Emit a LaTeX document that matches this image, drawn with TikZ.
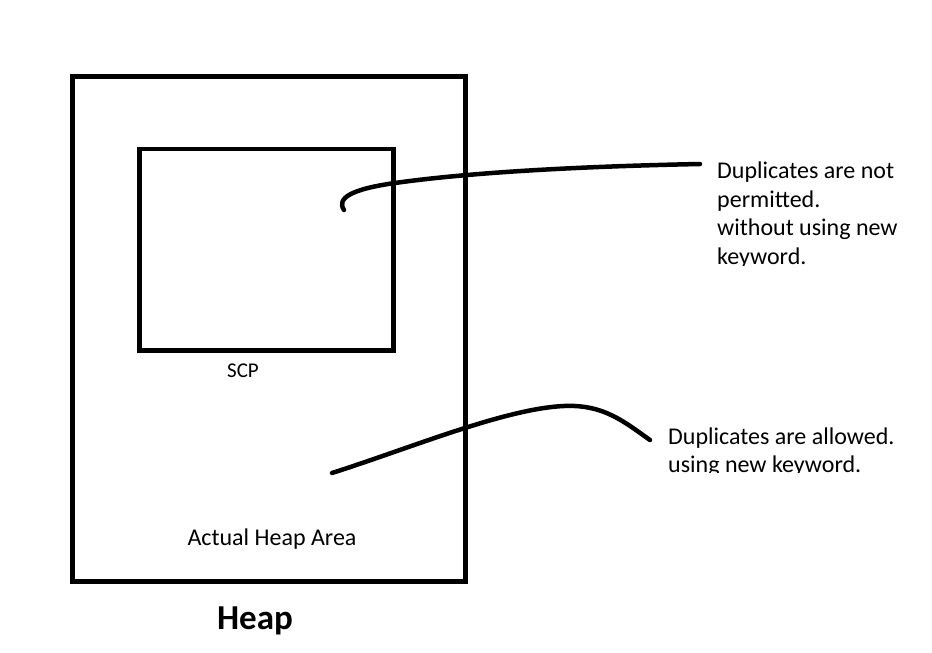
\documentclass[tikz,border=0pt]{standalone}
\usepackage{fontspec}
\setmainfont{Carlito}
\begin{document}
\begin{tikzpicture}[x=1pt,y=-1pt,
  pointer/.style={draw=black,line width=4.5pt,line cap=round},
  lbl/.style={font=\fontsize{24}{29}\selectfont,inner sep=0pt,anchor=base west}]
\useasboundingbox[fill=white] (0,0) rectangle (932,653);
\draw[line width=5pt] (72.5,76.8) rectangle (465,581.5);
\draw[line width=4.5pt] (139.5,149) rectangle (393.3,350.5);
\coordinate (heap) at (72.5,76.8);
\coordinate (scp) at (139.5,149);
\node[font=\fontsize{21}{25}\selectfont,inner sep=0pt,anchor=base] (scplbl) at (243,377) {SCP};
\node[font=\fontsize{24}{29}\selectfont,inner sep=0pt,anchor=base] (area) at (272,545) {Actual Heap Area};
\node[font=\fontsize{35}{40}\selectfont\bfseries,inner sep=0pt,anchor=base] (heaplbl) at (255,629) {Heap};
\begin{scope}
\clip (700,140) rectangle (932,265);
\node[lbl] (t1a) at (717,178.3) {Duplicates are not};
\node[lbl] (t1b) at (717,207) {permitted.};
\node[lbl] (t1c) at (717,235.7) {without using new};
\node[lbl] (t1d) at (717,264.4) {keyword.};
\end{scope}
\begin{scope}
\clip (650,410) rectangle (932,472.5);
\node[lbl] (t2a) at (668,444) {Duplicates are allowed.};
\node[lbl] (t2b) at (668,472.5) {using new keyword.};
\end{scope}
\coordinate (a1) at (344,210);
\coordinate (a2) at (700,164);
\coordinate (b1) at (332,473);
\coordinate (b2) at (650,440);
\draw[pointer] (a1) .. controls (336,198) and (352,189) .. (395,183) .. controls (480,171) and (600,166) .. (a2);
\draw[pointer] (b1) .. controls (420,445) and (530,398) .. (585,407) .. controls (612,411) and (630,426) .. (b2);
\end{tikzpicture}
\end{document}
